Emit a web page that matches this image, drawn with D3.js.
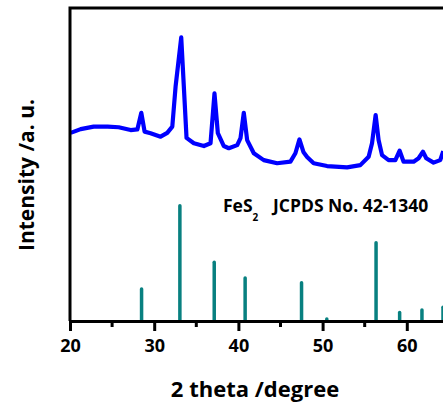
<!DOCTYPE html>
<html>
<head>
<meta charset="utf-8">
<script src="https://cdn.jsdelivr.net/npm/d3@7"></script>
<style>
  body { margin: 0; background: #fff; }
  svg { display: block; font-family: "Open Sans", Lato, sans-serif; font-weight: bold; }
</style>
</head>
<body>
<script>
// Data
  const scanAngle = [20.08, 21.27, 22.81, 24.47, 25.78, 27.2, 28.0, 28.47, 28.86, 29.57,
    30.76, 31.55, 32.15, 32.54, 33.21, 33.52, 33.84, 34.71, 35.9, 36.69,
    37.16, 37.56, 38.27, 38.86, 39.86, 40.25, 40.64, 41.04, 41.83, 43.01,
    44.6, 46.18, 46.77, 47.25, 47.72, 48.16, 48.94, 50.53, 52.91, 54.48,
    55.47, 55.87, 56.3, 56.65, 57.06, 57.84, 58.64, 59.15, 59.62, 60.81,
    61.4, 61.92, 62.31, 63.18, 63.97, 64.33];
  const scanIntensity = [60.1, 61.3, 62.1, 62.1, 61.9, 61.0, 61.2, 66.5, 60.5, 60.0,
    58.9, 60.1, 62.1, 74.9, 90.6, 74.9, 58.5, 56.8, 55.9, 56.8,
    72.7, 60.0, 55.9, 55.2, 56.2, 58.4, 66.5, 57.8, 53.6, 51.4,
    50.4, 50.9, 53.6, 58.0, 54.0, 52.4, 50.4, 49.5, 49.1, 49.8,
    52.5, 56.8, 65.8, 57.8, 53.0, 51.4, 51.4, 54.4, 50.9, 50.9,
    52.0, 54.1, 52.0, 50.6, 51.4, 54.3];

  const refAngle = [28.5, 33.05, 37.13, 40.8, 47.5, 50.5, 56.35, 59.15, 61.8, 64.3];
  const refIntensity = [10.2, 36.8, 18.8, 13.7, 12.2, 0.6, 25.0, 2.7, 3.5, 4.4];

  const majorTicks = [20, 30, 40, 50, 60];
  const minorTicks = [25, 35, 45, 55];

//Svg creation
  const width = 443;
  const height = 410;

  const svg = d3.select("body")
                .append("svg")
                .attr("width", width)
                .attr("height", height);

  const x = d3.scaleLinear().domain([20, 64.3]).range([70, width]);
  const y = d3.scaleLinear().domain([0, 100]).range([321, 8]);

//Reference sticks
  svg.selectAll("line.stick")
     .data(refAngle.map((a, i) => ({a, v: refIntensity[i]})))
     .join("line")
     .attr("class", "stick")
     .attr("x1", d => x(d.a))
     .attr("x2", d => x(d.a))
     .attr("y1", y(0))
     .attr("y2", d => y(d.v))
     .attr("stroke", "#088080")
     .attr("stroke-width", 3.5)
     .attr("stroke-linecap", "round");

//Measured pattern
  const line = d3.line()
                 .x((d, i) => x(scanAngle[i]))
                 .y(d => y(d));

  svg.append("path")
     .datum(scanIntensity)
     .attr("d", line)
     .attr("fill", "none")
     .attr("stroke", "#0000ff")
     .attr("stroke-width", 4.2)
     .attr("stroke-linejoin", "round");

//Axes
  const xAxis = svg.append("g")
     .attr("transform", `translate(0,${y(0)})`)
     .call(d3.axisBottom(x).tickValues(majorTicks).tickSize(10).tickSizeOuter(0).tickPadding(8));

  xAxis.select(".domain").attr("stroke-width", 3);
  xAxis.selectAll(".tick line").attr("stroke-width", 3);
  xAxis.selectAll(".tick text")
       .style("font-size", "18px")
       .style("font-weight", "bold")
       .style("font-family", "'Open Sans', sans-serif")
       .attr("fill", "#000");

  xAxis.selectAll("line.minor")
       .data(minorTicks)
       .join("line")
       .attr("class", "minor")
       .attr("x1", d => x(d))
       .attr("x2", d => x(d))
       .attr("y1", 0)
       .attr("y2", 6)
       .attr("stroke", "#000")
       .attr("stroke-width", 3);

  svg.append("path")
     .attr("d", `M${x(20)},${y(0)}V${y(100)}H${width}`)
     .attr("fill", "none")
     .attr("stroke", "#000")
     .attr("stroke-width", 3);

//Labels
  svg.append("text")
     .attr("x", 255)
     .attr("y", 397)
     .attr("text-anchor", "middle")
     .style("font-size", "22px")
     .text("2 theta /degree");

  svg.append("text")
     .attr("transform", "translate(34,175) rotate(-90)")
     .attr("text-anchor", "middle")
     .style("font-size", "21px")
     .text("Intensity /a. u.");

  const note = svg.append("text")
     .attr("x", 223)
     .attr("y", 212)
     .style("font-size", "17.5px");
  note.append("tspan").text("FeS");
  note.append("tspan").attr("dy", 9).style("font-size", "10px").text("2");
  note.append("tspan").attr("x", 273).attr("y", 212).text("JCPDS No. 42-1340");
</script>
</body>
</html>
